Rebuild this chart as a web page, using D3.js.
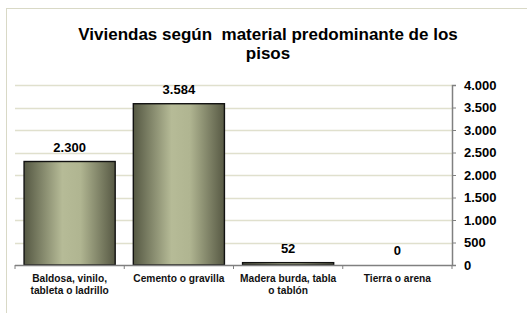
<!DOCTYPE html>
<html>
<head>
<meta charset="utf-8">
<script src="https://cdn.jsdelivr.net/npm/d3@7"></script>
<style>
  body { margin: 0; background: #fff; }
  svg { display: block; font-family: Arial, "Liberation Sans", sans-serif; }
</style>
</head>
<body>
<svg id="chart" width="527" height="313"></svg>
<script>
// data
const categories = [
  ["Baldosa, vinilo,", "tableta o ladrillo"],
  ["Cemento o gravilla"],
  ["Madera burda, tabla", "o tablón"],
  ["Tierra o arena"]
];
const values = [2300, 3584, 52, 0];
const valueLabels = ["2.300", "3.584", "52", "0"];
const yTicks = [0, 500, 1000, 1500, 2000, 2500, 3000, 3500, 4000];

const width = 527, height = 313;
const plot = { left: 15, right: 452, top: 85, bottom: 265 };

const svg = d3.select("#chart");
const fmt = d3.formatLocale({ decimal: ",", thousands: ".", grouping: [3], currency: ["$", ""] }).format(",.0f");

// chart frame (only top and left visible)
svg.append("rect")
  .attr("x", 6.5).attr("y", 8.5)
  .attr("width", 600).attr("height", 400)
  .attr("fill", "none").attr("stroke", "#d9d9c6");

// gradient for bars
const grad = svg.append("defs").append("linearGradient")
  .attr("id", "barGrad").attr("x1", "0%").attr("x2", "100%").attr("y1", "0%").attr("y2", "0%");
grad.append("stop").attr("offset", "0%").attr("stop-color", "#555843");
grad.append("stop").attr("offset", "42%").attr("stop-color", "#b6bb97");
grad.append("stop").attr("offset", "62%").attr("stop-color", "#b0b591");
grad.append("stop").attr("offset", "100%").attr("stop-color", "#575944");

const x = d3.scaleBand().domain(d3.range(categories.length))
  .range([plot.left, plot.right]).paddingInner(0.166).paddingOuter(0.083);
const y = d3.scaleLinear().domain([0, 4000]).range([plot.bottom, plot.top]);

// gridlines
svg.append("g").selectAll("line").data(yTicks.filter(d => d > 0)).join("line")
  .attr("x1", plot.left).attr("x2", plot.right)
  .attr("y1", d => Math.round(y(d)) + 0.5).attr("y2", d => Math.round(y(d)) + 0.5)
  .attr("stroke", "#e0e0cd").attr("stroke-width", 1.5);

// bars
svg.append("g").selectAll("rect").data(values).join("rect")
  .attr("x", (d, i) => x(i))
  .attr("y", d => y(d))
  .attr("width", x.bandwidth())
  .attr("height", d => y(0) - y(d))
  .attr("fill", "url(#barGrad)")
  .attr("stroke", "#111").attr("stroke-width", 1.4)
  .style("display", d => d > 0 ? null : "none");

// value labels
svg.append("g").selectAll("text").data(values).join("text")
  .attr("x", (d, i) => x(i) + x.bandwidth() / 2)
  .attr("y", d => y(d) - 10)
  .attr("text-anchor", "middle")
  .attr("font-size", 13).attr("font-weight", "bold").attr("fill", "#000")
  .text((d, i) => valueLabels[i]);

// x axis with ticks at band boundaries
const xAxisG = svg.append("g");
xAxisG.append("line")
  .attr("x1", plot.left).attr("x2", plot.right)
  .attr("y1", plot.bottom + 0.5).attr("y2", plot.bottom + 0.5)
  .attr("stroke", "#808080").attr("stroke-width", 1.5);
const bounds = d3.range(categories.length + 1).map(i => i < categories.length ? x(i) - x.step() * x.paddingInner() / 2 : plot.right);
bounds[0] = plot.left;
xAxisG.selectAll("line.tick").data(bounds).join("line").attr("class", "tick")
  .attr("x1", d => d).attr("x2", d => d)
  .attr("y1", plot.bottom).attr("y2", plot.bottom + 4)
  .attr("stroke", "#808080");

// category labels
const catG = svg.append("g").selectAll("text").data(categories).join("text")
  .attr("x", (d, i) => x(i) + x.bandwidth() / 2)
  .attr("y", 282)
  .attr("text-anchor", "middle")
  .attr("font-size", 10.2).attr("font-weight", "bold").attr("fill", "#111");
catG.selectAll("tspan").data(d => d).join("tspan")
  .attr("x", function () { return d3.select(this.parentNode).attr("x"); })
  .attr("dy", (d, i) => i === 0 ? 0 : 11.5)
  .text(d => d);

// right y axis
const yAxis = d3.axisRight(y).tickValues(yTicks).tickSize(4).tickPadding(8).tickFormat(fmt);
const yG = svg.append("g").attr("transform", `translate(${plot.right},0)`).call(yAxis);
yG.select(".domain").attr("stroke", "#808080").attr("stroke-width", 1.5);
yG.selectAll(".tick line").attr("stroke", "#808080");
yG.selectAll(".tick text")
  .attr("font-size", 13).attr("font-weight", "bold").attr("fill", "#000")
  .attr("font-family", "Arial, 'Liberation Sans', sans-serif");

// title
const title = svg.append("text")
  .attr("x", 268).attr("y", 40)
  .attr("text-anchor", "middle")
  .attr("font-size", 17).attr("font-weight", "bold").attr("fill", "#000")
  .style("white-space", "pre");
title.append("tspan").attr("x", 268).text("Viviendas según  material predominante de los");
title.append("tspan").attr("x", 268).attr("dy", 19).text("pisos");
</script>
</body>
</html>
